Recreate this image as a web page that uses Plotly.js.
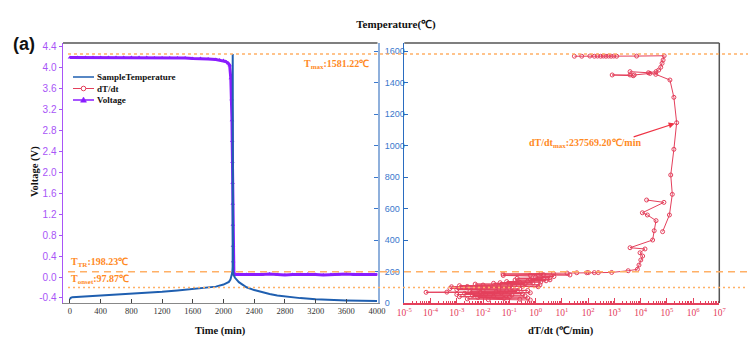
<!DOCTYPE html>
<html><head><meta charset="utf-8">
<script src="https://cdn.plot.ly/plotly-3.0.1.min.js"></script>
<style>html,body{margin:0;padding:0;background:#fff}#chart{width:750px;height:357px}</style>
</head><body><div id="chart"></div>
<script>
// ---- data ----
const timeT = [0, 10, 30, 100, 250, 400, 600, 800, 1000, 1200, 1400, 1600, 1800, 1900, 2000, 2040, 2070, 2090, 2105, 2115, 2119, 2120, 2121, 2124, 2130, 2150, 2200, 2250, 2300, 2400, 2500, 2600, 2700, 2800, 3000, 3200, 3400, 3600, 3800, 4000];
const sampleTemp = [24, 33, 37, 39, 42, 46, 51, 56, 63, 71, 79, 88, 98, 104, 117, 125, 134, 148, 170, 195, 230, 1581, 240, 200, 180, 160, 132, 114, 100, 82, 68, 57, 48, 41, 31, 24, 19, 16, 14, 12];

const timeV = [0,100,200,300,400,500,600,700,800,900,1000,1100,1200,1300,1400,1500,1600,1700,1800,1900,1950,2000,2030,2060,2080,2095,2105,2110,2113,2116,2118,2120,2122,2124,2126,2128,2135,2150,2200,2300,2400,2500,2600,2700,2800,2900,3000,3100,3200,3300,3400,3500,3600,3700,3800,3900,4000];
const voltage = [4.20,4.20,4.20,4.20,4.20,4.20,4.20,4.20,4.20,4.20,4.20,4.19,4.19,4.19,4.19,4.19,4.18,4.18,4.17,4.16,4.15,4.14,4.12,4.09,4.05,3.8,3.4,3.0,2.6,2.2,1.8,1.4,1.0,0.6,0.3,0.1,0.06,0.05,0.05,0.05,0.04,0.05,0.06,0.05,0.04,0.05,0.05,0.06,0.05,0.04,0.05,0.05,0.06,0.05,0.05,0.04,0.05];

// log10 of dT/dt (°C/min) and matching temperature (°C); null = gap
const rateLog = [-0.2,-1.8,-0.6,-2.6,-1.2,-0.3,-2.2,-1.0,-2.9,-1.6,-0.4,-2.4,-0.9,-3.0,-1.9,-0.5,-2.7,-1.3,-0.2,-2.1,-4.17,-3.38,-1.5,-0.7,-2.5,-1.1,-0.3,-2.0,-3.0,-1.4,-0.6,-3.26,-2.2,-0.9,-1.8,-3.2,-2.6,-0.5,0.1,-1.4,-2.9,-0.8,-2.0,0.17,-1.0,-2.3,-0.4,-1.6,-0.1,-1.35,-0.6,0.2,-1.1,-0.3,0.4,-0.78,0.55,-0.2,0.3,-0.7,0.55,0.0,0.7,-1.23,-0.2,1.31,0.3,-1.24,0.2,0.68,1.2,1.57,1.95,2.01,2.24,2.39,2.9,3.53,3.88,3.94,4.01,4.08,3.98,4.17,3.60,4.46,4.52,4.59,4.26,4.07,4.89,4.23,
  null,
  4.84,5.10,5.21,5.15,5.27,5.376,5.27,5.12,4.58,4.36,3.76,3.72,2.92,3.60,3.60,4.30,4.59,4.69,4.77,4.82,4.86,4.90,3.85,3.09,2.98,2.88,2.78,2.68,2.58,2.48,2.36,2.24,2.07,1.76,1.48];
const rateTemp = [19,21,24,26,29,32,35,37,40,43,45,48,51,54,56,59,61,63,65,67,68,69,71,73,75,78,80,82,85,87,89,92,94,97,99,103,105,106,103,108,110,112,114,115,118,120,122,125,127,129,131,133,136,139,141,146,147,150,154,157,160,164,168,175,177,178,180,184,186,188,190,192,192,193,193,193,194,205,214,241,273,298,319,343,351,400,459,523,559,573,639,654,
  null,
  453,559,690,813,976,1145,1306,1416,1452,1458,1448,1443,1448,1448,1469,1462,1469,1479,1497,1522,1543,1570,1568,1567,1568,1567,1568,1567,1568,1567,1568,1567,1568,1567,1567];

const timeTicks = [0,400,800,1200,1600,2000,2400,2800,3200,3600,4000];
const voltTicks = [-0.4,0.0,0.4,0.8,1.2,1.6,2.0,2.4,2.8,3.2,3.6,4.0,4.4];
const voltLabels = ['-0.4','0.0','0.4','0.8','1.2','1.6','2.0','2.4','2.8','3.2','3.6','4.0','4.4'];
const tempTicks = [0,200,400,600,800,1000,1200,1400,1600];
const rateTickExp = [-5,-4,-3,-2,-1,0,1,2,3,4,5,6,7];
const Tmax = 1581.22, Ttr = 198.23, Tonset = 97.87;
const rateMax = '237569.20';
const legendNames = ['SampleTemperature','dT/dt','Voltage'];

// ---- styling ----
const W = 750, H = 357;
const px = x => x / W, py = y => 1 - y / H;
const cTemp = '#1f5fb0', cRate = '#e4405c', cVolt = '#8a1cff';
const cVoltTxt = '#a855f7', cTempTxt = '#3b78cc', cOrange = '#ff8a1f', cDash = '#ffb066';
const serif = 'Liberation Serif, Times New Roman, serif';
const sans = 'Liberation Sans, Arial, sans-serif';

const rateX = rateLog.map(v => v === null ? null : Math.pow(10, v));
const rateTickVals = rateTickExp.map(e => Math.pow(10, e));
const rateTickText = rateTickExp.map(e => '10<sup>' + e + '</sup>');
const minorVals = [];
for (let e = -5; e < 7; e++) for (let k = 2; k <= 9; k++) minorVals.push(k * Math.pow(10, e));

const yDom = [py(303), py(43)];
const traces = [
  {x: timeT, y: sampleTemp, xaxis: 'x', yaxis: 'y2', mode: 'lines', name: legendNames[0],
   line: {color: cTemp, width: 2}, showlegend: false},
  {x: rateX, y: rateTemp, xaxis: 'x2', yaxis: 'y3', mode: 'lines+markers', name: legendNames[1],
   line: {color: cRate, width: 1}, marker: {symbol: 'circle-open', size: 4, color: cRate, line: {width: 1, color: cRate}},
   showlegend: false},
  {x: timeV, y: voltage, xaxis: 'x', yaxis: 'y', mode: 'lines+markers', name: legendNames[2],
   line: {color: cVolt, width: 3}, marker: {symbol: 'triangle-up', size: 4, color: cVolt}, showlegend: false}
];

const shapes = [
  // panel frames
  {type: 'line', xref: 'paper', yref: 'paper', x0: px(63), x1: px(377.5), y0: py(43), y1: py(43), line: {color: '#555', width: 1.5}},
  {type: 'line', xref: 'paper', yref: 'paper', x0: px(404.3), x1: px(719.3), y0: py(43), y1: py(43), line: {color: '#555', width: 1.5}},
  {type: 'line', xref: 'paper', yref: 'paper', x0: px(719.3), x1: px(719.3), y0: py(43), y1: py(303), line: {color: '#555', width: 1.5}},
  // reference temperature lines
  {type: 'line', xref: 'paper', yref: 'y2', x0: px(68), x1: px(748), y0: Tmax, y1: Tmax, line: {color: cDash, width: 1.5, dash: '3px,3px'}},
  {type: 'line', xref: 'paper', yref: 'y2', x0: px(68), x1: px(748), y0: Ttr, y1: Ttr, line: {color: cDash, width: 1.5, dash: '7px,5px'}},
  {type: 'line', xref: 'paper', yref: 'y2', x0: px(68), x1: px(748), y0: Tonset, y1: Tonset, line: {color: cDash, width: 1.5, dash: '2px,3px'}},
  // legend glyphs
  {type: 'line', xref: 'paper', yref: 'paper', x0: px(73), x1: px(94), y0: py(77), y1: py(77), line: {color: cTemp, width: 1.5}},
  {type: 'line', xref: 'paper', yref: 'paper', x0: px(73), x1: px(94), y0: py(88.5), y1: py(88.5), line: {color: cRate, width: 1}},
  {type: 'circle', xref: 'paper', yref: 'paper', xsizemode: 'pixel', ysizemode: 'pixel', xanchor: px(83.5), yanchor: py(88.5),
   x0: -2.3, x1: 2.3, y0: -2.3, y1: 2.3, line: {color: cRate, width: 1}, fillcolor: '#fff'},
  {type: 'line', xref: 'paper', yref: 'paper', x0: px(73), x1: px(94), y0: py(100), y1: py(100), line: {color: cVolt, width: 1.5}},
  {type: 'path', xref: 'paper', yref: 'paper', xsizemode: 'pixel', ysizemode: 'pixel', xanchor: px(83.5), yanchor: py(100),
   path: 'M-3,-2.2 L3,-2.2 L0,3 Z', line: {color: cVolt, width: 0.5}, fillcolor: cVolt}
];

const orangeFont = {family: serif, size: 10, color: cOrange};
const blackFont = {family: serif, size: 10.5, color: '#111'};
const annotations = [
  {xref: 'paper', yref: 'paper', x: px(24), y: py(44), xanchor: 'center', yanchor: 'middle', text: '<b>(a)</b>', showarrow: false,
   font: {family: sans, size: 18, color: '#111'}},
  {xref: 'paper', yref: 'paper', x: px(220), y: py(331), xanchor: 'center', yanchor: 'middle', text: '<b>Time (min)</b>', showarrow: false, font: blackFont},
  {xref: 'paper', yref: 'paper', x: px(561), y: py(331), xanchor: 'center', yanchor: 'middle', text: '<b>dT/dt (℃/min)</b>', showarrow: false, font: blackFont},
  {xref: 'paper', yref: 'paper', x: px(35), y: py(172), xanchor: 'center', yanchor: 'middle', text: '<b>Voltage (V)</b>', textangle: -90, showarrow: false, font: blackFont},
  {xref: 'paper', yref: 'paper', x: px(371), y: py(64), xanchor: 'right', yanchor: 'middle', text: '<b>T<sub>max</sub>:' + Tmax + '℃</b>', showarrow: false, font: orangeFont},
  {xref: 'paper', yref: 'paper', x: px(69), y: py(262), xanchor: 'left', yanchor: 'middle', text: '<b>T<sub>TR</sub>:' + Ttr + '℃</b>', showarrow: false, font: orangeFont},
  {xref: 'paper', yref: 'paper', x: px(69), y: py(279), xanchor: 'left', yanchor: 'middle', text: '<b>T<sub>onset</sub>:' + Tonset + '℃</b>', showarrow: false, font: orangeFont},
  {xref: 'paper', yref: 'paper', x: px(585), y: py(143), xanchor: 'center', yanchor: 'middle', text: '<b>dT/dt<sub>max</sub>:' + rateMax + '℃/min</b>', showarrow: false, font: orangeFont},
  {xref: 'x2', yref: 'y3', x: 5.3, y: 1140, axref: 'x2', ayref: 'y3', ax: 3.68, ay: 1052, text: '', showarrow: true,
   arrowhead: 2, arrowsize: 1, arrowwidth: 1.2, arrowcolor: '#ee3344'},
  // legend text
  {xref: 'paper', yref: 'paper', x: px(95), y: py(77), xanchor: 'left', yanchor: 'middle', text: '<b>' + legendNames[0] + '</b>', showarrow: false, font: {family: serif, size: 9, color: '#111'}},
  {xref: 'paper', yref: 'paper', x: px(95), y: py(88.5), xanchor: 'left', yanchor: 'middle', text: '<b>' + legendNames[1] + '</b>', showarrow: false, font: {family: serif, size: 9, color: '#111'}},
  {xref: 'paper', yref: 'paper', x: px(95), y: py(100), xanchor: 'left', yanchor: 'middle', text: '<b>' + legendNames[2] + '</b>', showarrow: false, font: {family: serif, size: 9, color: '#111'}}
];

const layout = {
  width: W, height: H, autosize: false,
  margin: {l: 0, r: 0, t: 0, b: 0},
  paper_bgcolor: '#fff', plot_bgcolor: 'rgba(0,0,0,0)',
  showlegend: false,
  title: {text: '<b>Temperature(℃)</b>', x: px(396), xanchor: 'center', y: py(24), yanchor: 'middle',
          font: {family: serif, size: 11, color: '#111'}},
  xaxis: {domain: [px(63), px(377.5)], range: [-91, 4006], anchor: 'y',
          tickmode: 'array', tickvals: timeTicks, ticks: 'inside', ticklen: 4, tickcolor: '#444',
          tickfont: {family: serif, size: 8.5, color: '#333'},
          showline: true, linecolor: '#888', linewidth: 1, showgrid: false, zeroline: false},
  yaxis: {domain: yDom, range: [-0.496, 4.476], anchor: 'x',
          tickmode: 'array', tickvals: voltTicks, ticktext: voltLabels, ticks: 'outside', ticklen: 3, tickcolor: cVoltTxt,
          tickfont: {family: sans, size: 10, color: cVoltTxt},
          showline: true, linecolor: cVoltTxt, linewidth: 1.5, showgrid: false, zeroline: false},
  yaxis2: {overlaying: 'y', side: 'right', anchor: 'x', range: [0, 1651],
           tickmode: 'array', tickvals: tempTicks, ticks: 'inside', ticklen: 4, tickcolor: cTempTxt,
           tickfont: {family: sans, size: 9, color: cTempTxt}, ticklabelstandoff: 3,
           showline: true, linecolor: '#8fb0dc', linewidth: 2.5, showgrid: false, zeroline: false},
  xaxis2: {domain: [px(404.3), px(719.3)], type: 'log', range: [-5, 7], anchor: 'y3',
           tickmode: 'array', tickvals: rateTickVals, ticktext: rateTickText, ticks: 'inside', ticklen: 5, tickcolor: cRate,
           tickfont: {family: serif, size: 9.5, color: cRate},
           minor: {tickmode: 'array', tickvals: minorVals, ticks: 'inside', ticklen: 2.5, tickcolor: cRate, tickwidth: 1, showgrid: false},
           showline: true, linecolor: cRate, linewidth: 1.5, showgrid: false, zeroline: false},
  yaxis3: {domain: yDom, range: [0, 1651], anchor: 'x2',
           tickmode: 'array', tickvals: tempTicks, ticks: 'inside', ticklen: 4, tickcolor: '#2a6cc0', showticklabels: false,
           showline: true, linecolor: '#2a6cc0', linewidth: 1, showgrid: false, zeroline: false},
  shapes: shapes,
  annotations: annotations
};

Plotly.newPlot('chart', traces, layout, {staticPlot: true, displayModeBar: false});
</script>
</body></html>
